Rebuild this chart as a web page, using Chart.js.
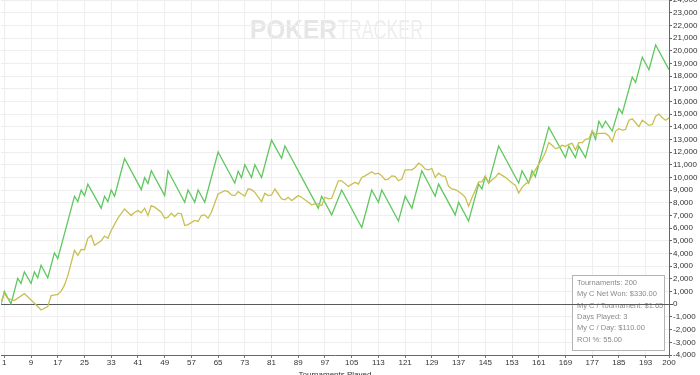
<!DOCTYPE html>
<html>
<head>
<meta charset="utf-8">
<script src="https://cdn.jsdelivr.net/npm/chart.js@4.4.1/dist/chart.umd.min.js"></script>
<style>
  html, body { margin: 0; padding: 0; background: #ffffff; }
  #wrap { width: 700px; height: 375px; position: relative; }
</style>
</head>
<body>
<div id="wrap"><canvas id="c" width="700" height="375"></canvas></div>
<script>
// ---- data ----
const netWonT = [0,1,3,5,6,7,9,10,11,12,14,16,17,22,23,24,25,26,30,31,32,33,34,37,42,43,44,45,49,50,55,56,58,59,61,65,70,71,72,73,75,76,78,81,84,85,95,96,99,102,108,111,113,114,119,121,123,126,130,131,136,137,140,143,144,145,146,149,155,156,158,159,160,164,169,170,172,173,175,177,178,179,180,181,183,185,186,189,190,192,194,196,200];
const netWonV = [0,1000,30,2040,1650,2560,1650,2560,2090,3080,2090,4050,3600,8520,8100,9010,8570,9480,7580,8520,8100,9010,8520,11500,9040,9980,9530,10530,8570,10530,8050,9010,8050,9010,8050,12010,9560,10500,9980,11000,10000,11000,10000,12950,11520,12480,7580,8520,7050,9010,6060,9010,8050,9010,6560,8520,7580,10530,8520,9480,7050,8050,6560,9480,9090,10060,9560,12480,9560,10530,9560,10530,10060,13970,11570,12480,11570,12480,11570,13660,13010,14440,13930,14440,13660,15440,15050,17920,17500,19490,18500,20460,18500];

const evT = [0,1,2,4,7,8,10,12,14,15,17,18,19,20,22,23,24,25,26,27,28,30,31,32,33,35,37,39,40,41,42,43,44,45,46,48,49,50,51,52,53,54,55,56,58,59,60,61,62,63,65,67,68,69,70,71,72,73,74,75,76,78,79,80,81,82,84,85,86,87,89,90,93,94,95,96,97,98,99,101,102,104,106,107,108,109,111,112,113,114,115,116,117,118,119,120,121,123,124,125,126,127,128,129,130,131,132,133,134,135,136,137,138,139,140,141,142,143,144,145,146,147,148,149,151,153,154,155,156,157,158,159,160,161,162,163,164,165,166,167,168,169,170,171,172,173,174,175,176,177,178,179,181,182,183,184,185,186,187,188,189,190,191,192,193,194,195,196,197,198,199,200];
const evV = [80,860,470,290,840,600,80,-450,-180,680,780,1040,1510,2260,4250,3860,4330,4300,5200,5430,4650,5000,5380,5200,5820,6800,7520,7000,7260,7390,7210,7580,7000,7780,7660,7260,6790,6870,7190,6920,7190,7130,6210,6290,6610,6530,7000,7050,6790,7260,8700,8960,8880,8620,8570,8880,8700,8540,9110,9040,8830,8100,8750,8570,8620,9090,8310,8250,8440,8180,8570,8440,7840,7920,7920,7780,8440,8310,8360,9740,9740,9300,9620,9480,10010,10130,10450,10270,10340,10130,9820,9870,10130,10090,9740,9870,10600,10600,10790,11130,10970,10660,10600,10710,10010,10340,10130,10090,9300,9100,9040,8900,8700,8440,7740,8400,9000,9660,9660,10130,9560,9800,10010,10340,10010,9560,9400,8780,9220,9480,9660,10130,10600,11050,11440,11970,12750,12540,12280,12360,12540,12440,12620,12700,12170,12750,12750,13010,13060,13660,13400,13480,13480,13270,12830,13660,13850,13740,13790,14520,14630,14320,14010,14520,14320,14110,14190,14830,15000,14710,14520,14700];

const xTickValues = [1,9,17,25,33,41,49,57,65,73,81,89,97,105,113,121,129,137,145,153,161,169,177,185,193,200];
const yMin = -4000, yMax = 24000, yStep = 1000;

const statLines = ['Tournaments: 200','My C Net Won: $330.00','My C / Tournament: $1.65','Days Played: 3','My C / Day: $110.00','ROI %: 55.00'];
const xTitle = 'Tournaments Played';

// ---- build datasets ----
const toPts = (ts, vs) => ts.map((t, i) => ({ x: t, y: vs[i] }));

const overlayPlugin = {
  id: 'overlay',
  beforeDraw(chart) {
    const ctx = chart.ctx;
    ctx.save();
    ctx.textBaseline = 'alphabetic';
    const drawFit = (txt, font, color, x, y, w) => {
      ctx.font = font;
      const m = ctx.measureText(txt).width;
      ctx.save();
      ctx.translate(x, y);
      ctx.scale(w / m, 1);
      ctx.fillStyle = color;
      ctx.fillText(txt, 0, 0);
      ctx.restore();
    };
    drawFit('POKER', 'bold 28px "Liberation Sans"', '#e6e6e6', 250, 38.5, 87);
    drawFit('TRACKER', '28px "Liberation Sans Narrow", "Liberation Sans"', '#eeeeee', 338, 38.5, 85);
    ctx.restore();
  },
  beforeDatasetsDraw(chart) {
    const ctx = chart.ctx;
    const ys = chart.scales.y, area = chart.chartArea;
    ctx.save();
    // stats box
    const bx = 572.5, by = 275.5, bw = 92, bh = 75;
    ctx.fillStyle = '#ffffff';
    ctx.fillRect(bx, by, bw, bh);
    ctx.strokeStyle = '#b4b4b4';
    ctx.lineWidth = 1;
    ctx.strokeRect(bx, by, bw, bh);
    ctx.fillStyle = '#8a8a8a';
    ctx.font = '7.5px "Liberation Sans"';
    ctx.textBaseline = 'middle';
    statLines.forEach((s, i) => ctx.fillText(s, 577, 283 + i * 11.3));
    // zero line
    const y0 = Math.round(ys.getPixelForValue(0)) + 0.5;
    ctx.strokeStyle = '#5a5a5a';
    ctx.lineWidth = 1.2;
    ctx.beginPath();
    ctx.moveTo(area.left, y0);
    ctx.lineTo(area.right + 4, y0);
    ctx.stroke();
    ctx.restore();
  }
};

new Chart(document.getElementById('c'), {
  type: 'line',
  data: {
    datasets: [
      { label: 'All-in EV', data: toPts(evT, evV), borderColor: '#c9bf52', borderWidth: 1.3, pointRadius: 0, tension: 0, fill: false },
      { label: 'Net Won', data: toPts(netWonT, netWonV), borderColor: '#5fc85f', borderWidth: 1.3, pointRadius: 0, tension: 0, fill: false }
    ]
  },
  options: {
    responsive: false,
    animation: false,
    events: [],
    layout: { padding: { left: 1, top: 0, right: 0, bottom: 0 } },
    plugins: { legend: { display: false }, tooltip: { enabled: false } },
    scales: {
      x: {
        type: 'linear',
        min: 0, max: 200,
        afterBuildTicks: (s) => { s.ticks = xTickValues.map(v => ({ value: v })); },
        afterFit: (s) => { s.height = 20; s.paddingLeft = 0; s.paddingRight = 0; },
        grid: { color: '#eeeeee', lineWidth: 1, drawTicks: true, tickLength: 3, tickColor: '#777' },
        border: { display: true, color: '#666', width: 1 },
        ticks: { font: { size: 8, family: '"Liberation Sans"' }, color: '#333', padding: 0, maxRotation: 0, autoSkip: false, callback: (v) => String(v) },
        title: { display: true, text: xTitle, font: { size: 8, family: '"Liberation Sans"' }, color: '#333', padding: { top: 0, bottom: -5 } }
      },
      y: {
        position: 'right',
        min: yMin, max: yMax,
        afterFit: (s) => { s.width = 31; s.paddingTop = 0; s.paddingBottom = 0; },
        grid: { color: '#eeeeee', lineWidth: 1, drawTicks: true, tickLength: 3, tickColor: '#666' },
        border: { display: true, color: '#666', width: 1 },
        ticks: { stepSize: yStep, font: { size: 8, family: '"Liberation Sans"' }, color: '#333', padding: 1, autoSkip: false, callback: (v) => v.toLocaleString('en-US') }
      }
    }
  },
  plugins: [overlayPlugin]
});
</script>
</body>
</html>
